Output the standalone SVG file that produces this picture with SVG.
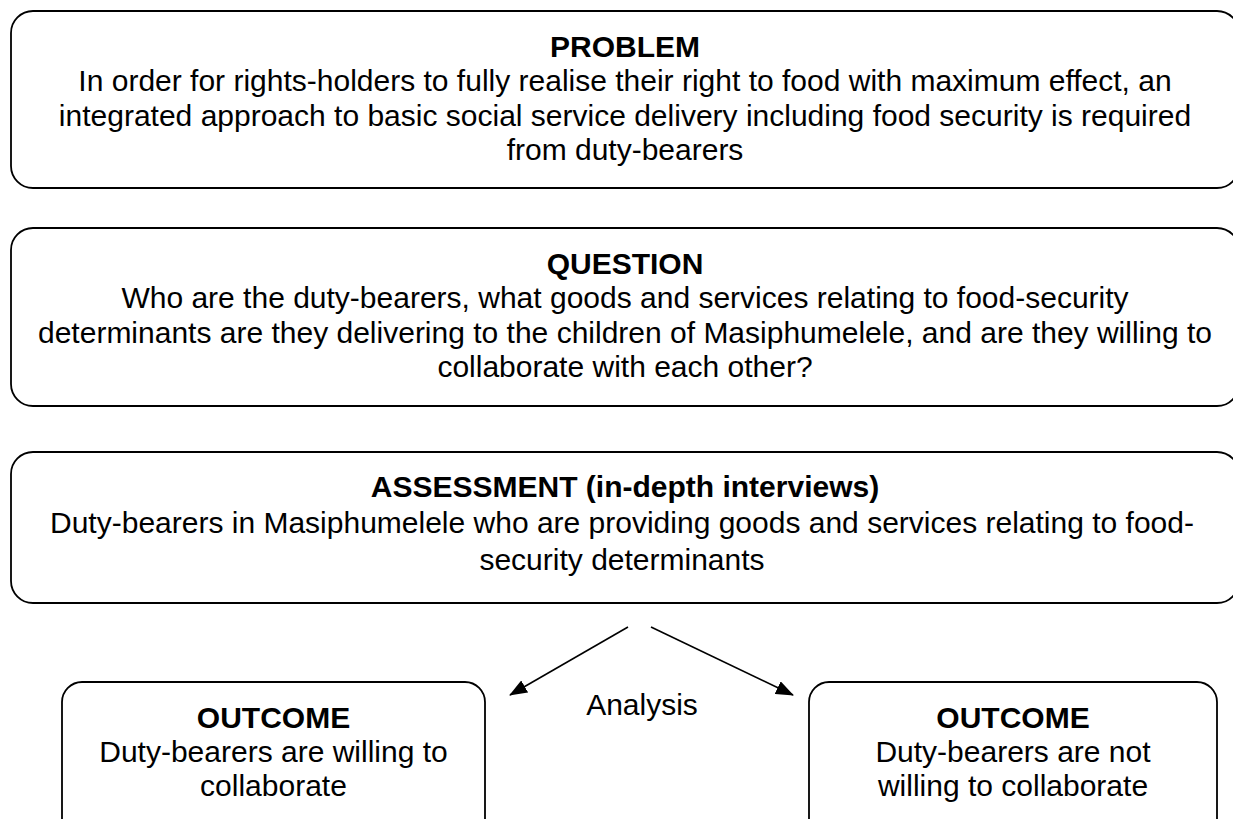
<svg xmlns="http://www.w3.org/2000/svg" width="1233" height="819" viewBox="0 0 1233 819">
<style>
.box{fill:#fff;stroke:#000;stroke-width:1.8}
text{font-family:"Liberation Sans",Arial,sans-serif;font-size:30px;fill:#000;text-anchor:middle}
.b{font-weight:bold}
.conn{stroke:#000;stroke-width:1.6;fill:none;marker-end:url(#arr)}
</style>
<defs>
<marker id="arr" markerWidth="18" markerHeight="14" refX="17" refY="7" orient="auto" markerUnits="userSpaceOnUse">
<path d="M0,0 L18,7 L0,14 Z" fill="#000"/>
</marker>
</defs>
<rect width="1233" height="819" fill="#fff"/>
<g id="problem">
<rect class="box" x="11" y="11" width="1228" height="177" rx="22"/>
<text class="b" x="625" y="57">PROBLEM</text>
<text x="625" y="91">In order for rights-holders to fully realise their right to food with maximum effect, an</text>
<text x="625" y="125.5">integrated approach to basic social service delivery including food security is required</text>
<text x="625" y="160">from duty-bearers</text>
</g>
<g id="question">
<rect class="box" x="11" y="228" width="1228" height="178" rx="22"/>
<text class="b" x="625" y="274">QUESTION</text>
<text x="625" y="308">Who are the duty-bearers, what goods and services relating to food-security</text>
<text x="625" y="342.5">determinants are they delivering to the children of Masiphumelele, and are they willing to</text>
<text x="625" y="377">collaborate with each other?</text>
</g>
<g id="assessment">
<rect class="box" x="11" y="452" width="1228" height="151" rx="22"/>
<text class="b" x="625" y="497">ASSESSMENT (in-depth interviews)</text>
<text x="622" y="533">Duty-bearers in Masiphumelele who are providing goods and services relating to food-</text>
<text x="622" y="570">security determinants</text>
</g>
<g id="outcome-yes">
<rect class="box" x="62" y="682" width="423" height="180" rx="20"/>
<text class="b" x="273.5" y="728">OUTCOME</text>
<text x="273.5" y="762">Duty-bearers are willing to</text>
<text x="273.5" y="796">collaborate</text>
</g>
<g id="outcome-no">
<rect class="box" x="809" y="682" width="408" height="180" rx="20"/>
<text class="b" x="1013" y="728">OUTCOME</text>
<text x="1013" y="762">Duty-bearers are not</text>
<text x="1013" y="796">willing to collaborate</text>
</g>
<g id="connectors">
<line class="conn" x1="628" y1="627" x2="510" y2="695"/>
<line class="conn" x1="651" y1="627" x2="793" y2="695"/>
<text x="642" y="715">Analysis</text>
</g>
</svg>
